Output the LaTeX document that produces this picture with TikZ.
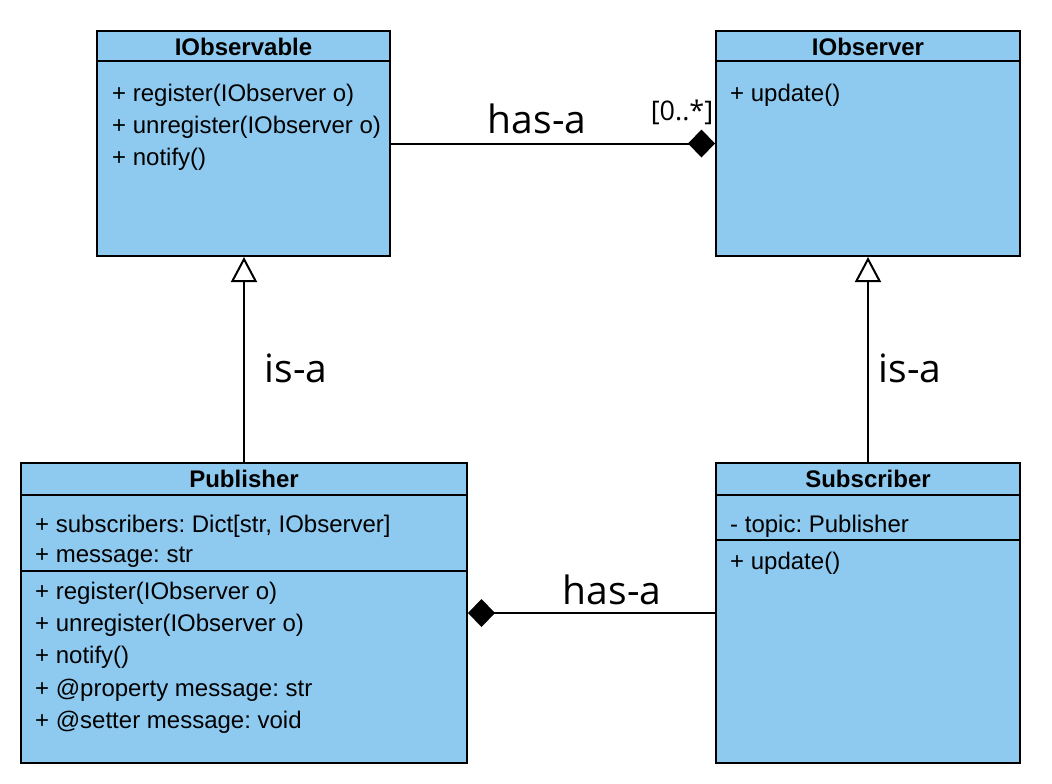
\documentclass[tikz,border=0pt]{standalone}
\usepackage{fontspec}
\setmainfont{Liberation Sans}
\newfontfamily\linkfont{Open Sans}
\usetikzlibrary{arrows.meta}
\definecolor{classblue}{RGB}{142,202,240}
\frenchspacing
\tikzset{
  classbox/.style={draw, line width=2pt, fill=classblue, inner sep=0pt},
  member/.style={anchor=west, inner sep=0pt, font=\fontsize{24}{28}\selectfont},
  classname/.style={inner sep=0pt, font=\fontsize{24}{28}\selectfont\bfseries},
  link/.style={line width=2pt},
  linklabel/.style={inner sep=0pt, font=\linkfont\fontsize{39}{44}\selectfont},
  hasa/.style={link, {Diamond[length=27pt,width=28pt]}-},
  isa/.style={link, -{Triangle[fill=white,length=25pt,width=26pt]}},
}
% class box: name, left, top, right, bottom, title, header height
\newcommand{\umlclass}[7]{%
  \node[classbox, minimum width=#4-#2, minimum height=#5-#3] (#1) at ({(#2+#4)/2},{(#3+#5)/2}) {};%
  \draw[line width=2pt] (#2,#3+#7) -- (#4,#3+#7);%
  \node[classname] (#1-title) at ({(#2+#4)/2},#3+15.5) {#6};%
}

\begin{document}
\begin{tikzpicture}[x=1pt,y=-1pt]
  \useasboundingbox (0,0) rectangle (1052,784);
  % classes
  \umlclass{iobservable}{97}{31}{390}{256}{IObservable}{30}
  \umlclass{iobserver}{716}{31}{1020}{256}{IObserver}{30}
  \umlclass{publisher}{21}{463}{467}{763}{Publisher}{32}
  \umlclass{subscriber}{716}{463}{1020}{763}{Subscriber}{32}
  \draw[line width=2pt] (21,571) -- (467,571);
  \draw[line width=2pt] (716,540) -- (1020,540);
  % members
  \foreach \txt [count=\i] in {+ register(IObserver o),+ unregister(IObserver o),+ notify()}
    \node[member] (iobservable-m\i) at (112,{95+32*(\i-1)}) {\txt};
  \node[member] (iobserver-m1) at (730,95) {+ update()};
  \foreach \txt [count=\i] in {{+ subscribers: Dict[str, IObserver]},+ message: str}
    \node[member] (publisher-a\i) at (35,{526+31*(\i-1)}) {\txt};
  \foreach \txt [count=\i] in {+ register(IObserver o),+ unregister(IObserver o),+ notify(),+ @property message: str,+ @setter message: void}
    \node[member] (publisher-m\i) at (35,{593+32.3*(\i-1)}) {\txt};
  \node[member] (subscriber-a1) at (730,526) {- topic: Publisher};
  \node[member] (subscriber-m1) at (730,563) {+ update()};
  % relations
  \draw[hasa] (iobserver.west) -- (iobservable.east);
  \draw[hasa] (publisher.east) -- (subscriber.west);
  \draw[isa] (publisher.north) -- (publisher.north |- iobservable.south);
  \draw[isa] (subscriber.north) -- (iobserver.south);
  \node[linklabel] (hasa-top) at (537,119) {has-a};
  \node[inner sep=0pt, font=\linkfont\fontsize{27}{32}\selectfont] (mult) at (682,112) {[0..*]};
  \node[linklabel] (hasa-bottom) at (612,590) {has-a};
  \node[linklabel] (isa-left) at (296,368) {is-a};
  \node[linklabel] (isa-right) at (910,368) {is-a};
\end{tikzpicture}
\end{document}
